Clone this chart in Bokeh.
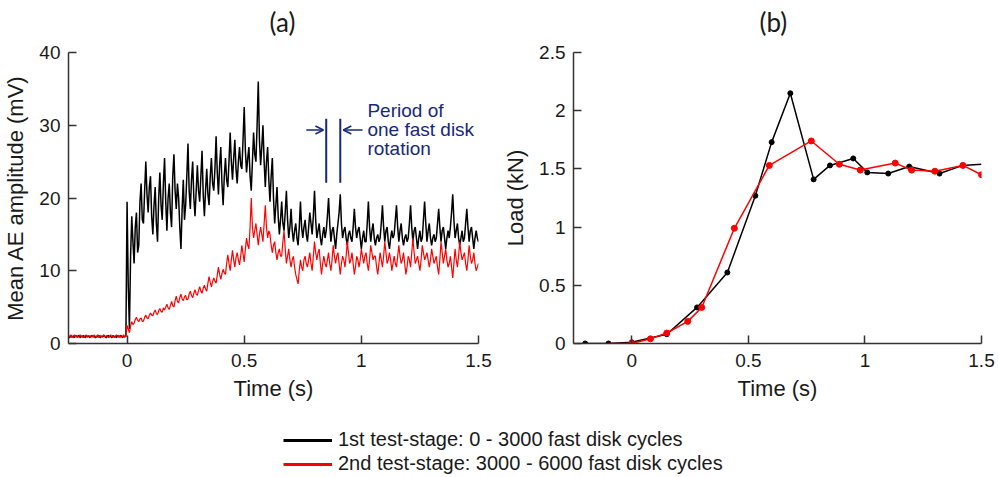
import numpy as np
from bokeh.plotting import figure
from bokeh.layouts import column, row
from bokeh.models import (Range1d, FixedTicker, NumeralTickFormatter, Arrow,
                          OpenHead, Legend, LegendItem, Title)
from bokeh.core.properties import value
from bokeh.embed import file_html
from bokeh.resources import INLINE

# ---------------- data: panel (a) mean AE amplitude (mV), sampled every 0.005 s from -0.25 s
ae_t_start = -0.25
ae_t_step = 0.005
ae_stage1 = [
    # -0.250 .. -0.005
    1.0, 0.8, 1.1, 0.9, 1.0, 0.8, 1.1, 0.9, 1.0, 1.1,
    0.8, 1.0, 0.9, 1.1, 0.8, 1.0, 0.9, 1.1, 0.8, 1.0,
    1.1, 0.9, 1.0, 0.8, 1.0, 0.9, 1.1, 0.8, 1.0, 0.9,
    1.1, 1.0, 0.8, 1.0, 1.1, 0.9, 1.0, 0.8, 1.1, 0.9,
    1.0, 0.8, 1.1, 0.9, 1.0, 1.1, 0.8, 1.0, 0.9, 1.0,
    # 0.000 .. 1.500
    19.5, 8.0, 2.0, 12.0, 17.5, 14.0, 11.0, 16.0, 18.0, 12.5, 13.5, 19.5, 22.0, 17.0, 16.5, 21.0, 25.0, 20.5, 18.0, 21.5,
    23.0, 17.5, 15.0, 19.0, 21.5, 16.5, 14.0, 20.0, 23.5, 19.0, 17.0, 22.0, 25.5, 19.5, 15.5, 20.0, 22.0, 18.0, 16.0, 23.0,
    26.0, 21.0, 18.5, 22.0, 20.0, 16.0, 13.0, 18.5, 22.5, 17.0, 19.0, 23.0, 27.5, 21.0, 18.5, 22.5, 25.0, 20.0, 17.5, 21.0,
    24.5, 21.0, 19.5, 23.0, 26.5, 20.5, 17.5, 21.0, 24.0, 20.5, 19.0, 23.0, 25.5, 22.0, 21.0, 24.0, 28.5, 23.5, 20.5, 24.5,
    27.0, 22.0, 19.0, 23.0, 25.5, 22.5, 21.5, 25.0, 29.0, 25.0, 22.5, 25.5, 28.0, 24.0, 22.0, 25.0, 27.0, 24.5, 24.0, 28.0,
    32.5, 26.5, 23.5, 25.5, 27.0, 23.0, 21.0, 25.0, 29.0, 26.0, 25.0, 30.0, 36.0, 28.0, 24.5, 27.0, 30.0, 25.0, 21.5, 25.0,
    27.0, 22.5, 19.5, 23.0, 25.5, 20.0, 16.5, 19.0, 21.5, 17.5, 15.0, 17.0, 19.5, 16.5, 15.5, 18.0, 21.0, 17.0, 14.5, 16.0,
    18.5, 15.5, 14.0, 15.5, 16.5, 14.5, 13.5, 16.0, 19.5, 16.0, 14.5, 16.0, 17.0, 15.0, 14.0, 16.0, 18.0, 16.5, 15.0, 17.5,
    21.0, 17.0, 14.5, 15.5, 16.5, 14.5, 13.5, 15.0, 16.0, 14.5, 15.5, 17.5, 20.0, 16.5, 14.0, 15.5, 16.0, 14.5, 13.0, 15.0,
    16.5, 18.0, 20.5, 16.5, 14.5, 15.5, 16.0, 14.5, 13.5, 15.0, 15.5, 14.5, 14.0, 16.0, 18.5, 16.0, 14.5, 15.5, 16.0, 14.5,
    13.0, 14.5, 15.5, 14.0, 14.0, 16.5, 19.5, 16.0, 14.0, 15.5, 16.5, 14.5, 13.5, 14.5, 15.0, 14.0, 14.5, 16.5, 19.0, 16.0,
    14.0, 15.5, 16.0, 14.0, 13.0, 14.5, 15.5, 14.5, 15.0, 17.0, 19.0, 16.0, 14.0, 15.5, 16.5, 14.5, 13.5, 14.5, 15.0, 14.0,
    14.5, 16.5, 19.0, 16.0, 14.0, 15.5, 16.0, 14.5, 13.0, 14.5, 15.5, 14.0, 14.5, 17.0, 19.5, 16.5, 14.0, 15.5, 16.5, 14.5,
    13.5, 14.5, 15.0, 14.0, 14.5, 16.5, 18.5, 16.0, 14.0, 15.5, 16.0, 14.5, 13.0, 14.5, 15.5, 14.5, 16.0, 18.0, 20.5, 17.0,
    14.5, 15.5, 16.5, 14.5, 13.5, 14.5, 15.5, 14.0, 14.5, 16.5, 18.5, 16.0, 14.0, 15.5, 16.0, 14.5, 13.0, 14.5, 15.5, 14.5,
    14.0,
]
ae_stage2 = [
    # -0.250 .. -0.005
    1.1, 0.9, 1.2, 0.8, 1.0, 1.2, 0.9, 1.1, 0.8, 1.0,
    1.2, 0.9, 1.1, 0.8, 1.0, 1.2, 0.9, 1.1, 1.0, 0.8,
    1.1, 0.9, 1.2, 0.9, 1.0, 1.2, 0.8, 1.1, 0.9, 1.0,
    1.2, 0.9, 1.0, 1.1, 0.8, 1.0, 1.2, 0.9, 1.1, 0.8,
    1.0, 1.2, 0.9, 1.1, 0.8, 1.1, 0.9, 1.2, 0.9, 1.0,
    # 0.000 .. 1.500
    2.5, 2.0, 1.5, 2.4, 3.0, 2.6, 2.8, 3.3, 3.6, 3.2, 3.0, 3.4, 3.5, 3.0, 3.1, 3.6, 3.9, 3.5, 3.4, 3.9,
    4.2, 3.9, 3.8, 4.3, 4.6, 4.1, 4.0, 4.5, 4.8, 4.4, 4.3, 4.9, 4.6, 5.0, 5.4, 4.9, 4.7, 5.2, 5.8, 5.2,
    5.0, 5.9, 6.5, 5.8, 5.6, 6.3, 6.8, 6.1, 5.9, 6.4, 6.6, 6.0, 6.1, 6.8, 7.2, 6.6, 6.3, 6.9, 7.4, 6.8,
    6.6, 7.3, 7.8, 7.2, 6.9, 7.6, 8.0, 7.5, 7.2, 8.3, 9.2, 8.4, 7.8, 8.5, 9.0, 8.6, 8.3, 9.4, 10.5, 9.5,
    8.8, 9.6, 10.2, 9.7, 9.5, 11.0, 12.2, 11.0, 10.0, 11.5, 12.8, 11.5, 10.5, 11.8, 12.5, 11.5, 10.8, 12.0, 13.5, 12.3,
    11.2, 13.0, 14.5, 13.5, 13.0, 16.0, 20.0, 16.0, 14.5, 15.5, 16.5, 15.0, 13.5, 15.0, 16.0, 15.0, 14.0, 16.5, 19.0, 16.0,
    14.5, 15.5, 15.0, 13.5, 12.5, 13.5, 14.0, 12.5, 11.5, 12.5, 13.0, 12.0, 12.0, 14.0, 15.5, 13.0, 11.0, 12.0, 13.0, 11.5,
    10.5, 11.5, 12.0, 10.5, 9.5, 8.8, 8.2, 10.0, 11.5, 10.5, 10.0, 11.5, 12.0, 11.0, 10.5, 11.5, 12.5, 11.0, 10.0, 12.0,
    14.0, 12.5, 11.5, 12.5, 13.0, 11.0, 9.5, 11.0, 12.0, 11.0, 10.5, 11.5, 12.5, 11.0, 10.0, 11.5, 13.5, 12.0, 11.0, 12.0,
    12.5, 11.0, 9.5, 11.0, 12.0, 11.5, 10.5, 12.0, 14.0, 12.5, 11.0, 11.5, 12.5, 11.0, 9.5, 10.5, 12.0, 11.5, 10.5, 11.5,
    13.0, 12.0, 11.0, 12.0, 12.5, 11.0, 10.0, 11.5, 13.5, 12.5, 11.5, 12.0, 12.0, 10.5, 9.5, 11.0, 12.5, 11.5, 10.5, 12.0,
    14.0, 12.5, 11.0, 11.5, 12.5, 11.5, 10.0, 11.0, 12.0, 11.0, 10.5, 12.0, 13.5, 12.0, 11.0, 11.5, 12.5, 11.0, 9.5, 10.5,
    12.0, 11.5, 10.5, 12.5, 14.5, 12.5, 11.0, 11.5, 12.0, 11.0, 10.0, 11.5, 13.5, 12.5, 11.5, 12.0, 12.5, 11.5, 10.5, 11.5,
    13.0, 12.0, 11.0, 11.5, 12.0, 10.5, 9.5, 11.5, 14.0, 12.5, 11.0, 12.0, 13.0, 11.5, 10.5, 11.0, 12.0, 10.5, 9.0, 11.0,
    13.0, 11.5, 10.5, 12.0, 14.0, 12.5, 11.5, 12.0, 12.5, 11.0, 10.0, 11.5, 13.5, 12.0, 11.0, 11.5, 12.5, 11.0, 10.0, 10.5,
    11.0,
]
ae_time = [round(ae_t_start + i * ae_t_step, 4) for i in range(len(ae_stage1))]

# ---------------- data: panel (b) load (kN)
load_t1 = [-0.20, -0.10, 0.00, 0.15, 0.28, 0.41, 0.53, 0.60, 0.68, 0.78, 0.85,
           0.95, 1.01, 1.10, 1.19, 1.32, 1.42, 1.50]
load_1 = [0.0, 0.0, 0.01, 0.08, 0.31, 0.61, 1.27, 1.73, 2.15, 1.41, 1.53,
          1.59, 1.47, 1.46, 1.52, 1.46, 1.53, 1.54]
load_t2 = [-0.10, 0.00, 0.08, 0.15, 0.24, 0.30, 0.44, 0.59, 0.77, 0.89, 0.98,
           1.13, 1.20, 1.30, 1.42, 1.50]
load_2 = [0.0, 0.0, 0.04, 0.09, 0.19, 0.31, 0.99, 1.53, 1.74, 1.54, 1.49,
          1.55, 1.49, 1.48, 1.53, 1.45]

x_ticks = [0, 0.5, 1, 1.5]
y_ticks_a = [0, 10, 20, 30, 40]
y_ticks_b = [0, 0.5, 1, 1.5, 2, 2.5]

# annotation (panel a)
period_lines_x = [0.85, 0.91]
period_lines_y0 = 22.1
period_lines_y1 = 30.9
arrow_y = 29.35
arrow_left = (0.765, 0.838)
arrow_right = (1.005, 0.923)
note_lines = ["Period of", "one fast disk", "rotation"]
note_x = [1.026, 1.026, 1.026]
note_y = [32.0, 29.35, 26.75]

panel_titles = ["(a)", "(b)"]
legend_labels = ["1st test-stage: 0 - 3000 fast disk cycles",
                 "2nd test-stage: 3000 - 6000 fast disk cycles"]

NAVY = "#16287e"
FONT = "Liberation Sans"


def style(p, yticks, title_text, title_offset):
    p.xaxis.ticker = FixedTicker(ticks=x_ticks)
    p.yaxis.ticker = FixedTicker(ticks=yticks)
    for ax in (p.xaxis[0], p.yaxis[0]):
        ax.major_tick_in = 8
        ax.major_tick_out = 0
        ax.minor_tick_line_color = None
        ax.axis_line_color = "#333333"
        ax.axis_line_width = 1.5
        ax.major_tick_line_color = "#333333"
        ax.major_tick_line_width = 1.5
        ax.major_label_text_font = FONT
        ax.major_label_text_font_size = "19px"
        ax.major_label_text_color = "#1a1a1a"
        ax.axis_label_text_font = FONT
        ax.axis_label_text_font_size = "22px"
        ax.axis_label_text_font_style = "normal"
        ax.axis_label_text_color = "#1a1a1a"
        ax.formatter = NumeralTickFormatter(format="0.[0]")
    p.xaxis.major_label_standoff = 10
    p.yaxis.major_label_standoff = 8
    p.xaxis.axis_label_standoff = 6
    p.yaxis.axis_label_standoff = 8
    p.xgrid.visible = False
    p.ygrid.visible = False
    p.outline_line_color = None
    # small spacer between frame and title, then the title itself
    p.add_layout(Title(text=" ", text_font_size="1px"), "above")
    p.add_layout(Title(text=title_text, align="left", offset=title_offset, standoff=4,
                       text_font="Lato", text_font_size="26px", text_font_style="normal",
                       text_color="#1a1a1a"), "above")


pa = figure(width=500, height=410, x_range=Range1d(-0.25, 1.5), y_range=Range1d(0, 40),
            x_axis_label="Time (s)", y_axis_label="Mean AE amplitude (mV)",
            min_border_left=68, min_border_right=22, min_border_top=52, min_border_bottom=67,
            output_backend="svg", toolbar_location=None)
style(pa, y_ticks_a, panel_titles[0], 201)
pa.line(ae_time, ae_stage1, line_color="black", line_width=1.5)
pa.line(ae_time, ae_stage2, line_color="#ff0000", line_width=1.2)

for xv in period_lines_x:
    pa.segment(x0=[xv], y0=[period_lines_y0], x1=[xv], y1=[period_lines_y1],
               line_color=NAVY, line_width=2)
for (xs, xe) in (arrow_left, arrow_right):
    pa.add_layout(Arrow(end=OpenHead(size=8, line_color=NAVY, line_width=1.5),
                        x_start=xs, y_start=arrow_y, x_end=xe, y_end=arrow_y,
                        line_color=NAVY, line_width=1.5))
pa.text(x=note_x, y=note_y, text=note_lines, text_font=value(FONT), text_font_size="19px",
        text_color=NAVY, text_baseline="middle", text_align="left")

pb = figure(width=498, height=410, x_range=Range1d(-0.25, 1.5), y_range=Range1d(0, 2.5),
            x_axis_label="Time (s)", y_axis_label="Load (kN)",
            min_border_left=71, min_border_right=17, min_border_top=52, min_border_bottom=67,
            output_backend="svg", toolbar_location=None)
style(pb, y_ticks_b, panel_titles[1], 186)
pb.line(load_t1, load_1, line_color="black", line_width=1.5)
pb.scatter(load_t1[:-1], load_1[:-1], size=5, color="black")
pb.line(load_t2, load_2, line_color="#ff0000", line_width=1.5)
pb.scatter(load_t2[1:], load_2[1:], size=6, color="#ff0000")

pl = figure(width=998, height=67, x_range=Range1d(0, 1), y_range=Range1d(0, 1),
            toolbar_location=None, output_backend="svg", min_border=0,
            x_axis_type=None, y_axis_type=None)
pl.outline_line_color = None
r1 = pl.line([np.nan], [np.nan], line_color="black", line_width=3)
r2 = pl.line([np.nan], [np.nan], line_color="#ff0000", line_width=3)
leg = Legend(items=[LegendItem(label=legend_labels[0], renderers=[r1]),
                    LegendItem(label=legend_labels[1], renderers=[r2])],
             location=(283, 2), glyph_width=49, glyph_height=20, label_height=20,
             label_standoff=6, spacing=1, padding=0, margin=0,
             border_line_color=None, background_fill_alpha=0,
             label_text_font=FONT, label_text_font_size="20px",
             label_text_color="#1a1a1a")
pl.add_layout(leg)

layout = column(row(pa, pb), pl)
open("out.html", "w").write(file_html(layout, INLINE))
